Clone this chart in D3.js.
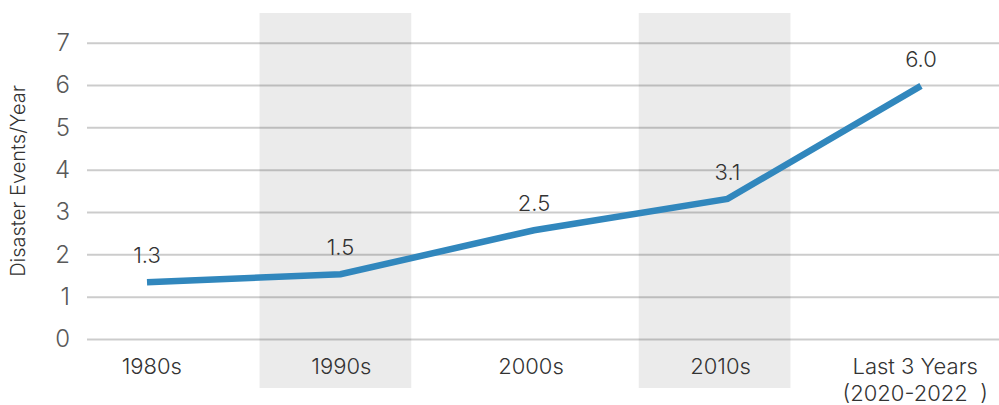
<!DOCTYPE html>
<html><head><meta charset="utf-8">
<script src="https://cdn.jsdelivr.net/npm/d3@7"></script>
<style>
html,body{margin:0;padding:0;background:#fff;}
svg{display:block;font-family:Inter,Roboto,"Noto Sans",sans-serif;font-weight:300;}
</style></head>
<body>
<svg id="chart" width="999" height="405"></svg>
<script>
const categories = ["1980s", "1990s", "2000s", "2010s", "Last 3 Years"];
const categoryLines = [["1980s"], ["1990s"], ["2000s"], ["2010s"], ["Last 3 Years", "(2020-2022\u00a0\u00a0)"]];
const eventsPerYear = [1.34, 1.53, 2.57, 3.31, 5.98];
const dataLabels = ["1.3", "1.5", "2.5", "3.1", "6.0"];
const shadedCategories = ["1990s", "2010s"];
const yTicks = [0, 1, 2, 3, 4, 5, 6, 7];
const yTitle = "Disaster Events/Year";

const svg = d3.select("#chart");
const y = d3.scaleLinear().domain([0, 7]).range([339, 42.7]);
const xBand = d3.scaleBand().domain(categories).range([51, 999]).paddingInner(0.2).paddingOuter(0.1);
const xLine = d3.scalePoint().domain(categories).range([147, 921]);

// shaded bands
svg.append("g").selectAll("rect").data(shadedCategories).join("rect")
  .attr("x", d => xBand(d)).attr("width", xBand.bandwidth())
  .attr("y", 13).attr("height", 375)
  .attr("fill", "#ebebeb");

// gridlines + y tick labels
const yAxis = d3.axisLeft(y).tickValues(yTicks).tickSize(-(999 - 87)).tickPadding(17).tickFormat(d3.format("d"));
const gy = svg.append("g").attr("transform", "translate(87,0)").call(yAxis);
gy.select(".domain").remove();
gy.selectAll(".tick line").attr("stroke", "rgba(0,0,0,0.2)").attr("stroke-width", 2);
gy.selectAll(".tick text").attr("fill", "#595959").attr("font-size", 24).attr("font-family", "Inter,Roboto,sans-serif").attr("font-weight", 300);

// y title
svg.append("text")
  .attr("transform", "translate(25,181) rotate(-90)")
  .attr("text-anchor", "middle")
  .attr("font-size", 20)
  .attr("fill", "#333")
  .text(yTitle);

// x labels
const gx = svg.append("g");
categories.forEach((c, i) => {
  const t = gx.append("text")
    .attr("x", xBand(c) + xBand.bandwidth() / 2 + 6)
    .attr("y", 374)
    .attr("text-anchor", "middle")
    .attr("font-size", 22)
    .attr("fill", "#333");
  categoryLines[i].forEach((ln, j) => {
    t.append("tspan").attr("x", xBand(c) + xBand.bandwidth() / 2 + (i === 4 ? 11 : 6)).attr("dy", j === 0 ? 0 : 27).text(ln);
  });
});

// line
const line = d3.line().x((d, i) => xLine(categories[i])).y(d => y(d));
svg.append("path").datum(eventsPerYear)
  .attr("d", line)
  .attr("fill", "none")
  .attr("stroke", "#3187bd")
  .attr("stroke-width", 6.5);

// data labels
svg.append("g").selectAll("text").data(eventsPerYear).join("text")
  .attr("x", (d, i) => xLine(categories[i]))
  .attr("y", d => y(d) - 19)
  .attr("text-anchor", "middle")
  .attr("font-size", 22)
  .attr("fill", "#333")
  .text((d, i) => dataLabels[i]);
</script>
</body></html>
